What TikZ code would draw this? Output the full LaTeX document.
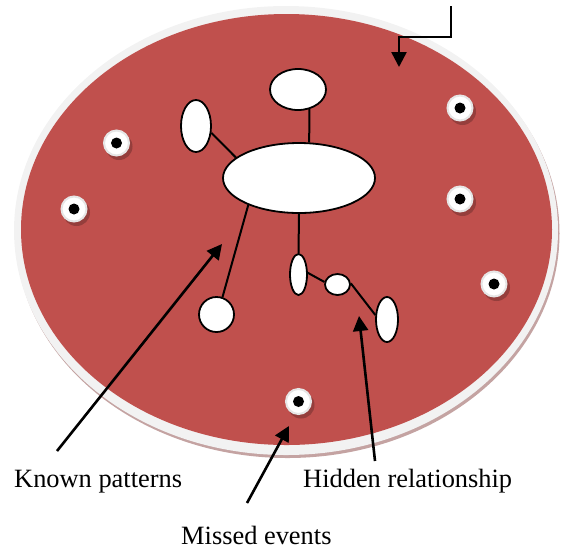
\documentclass[tikz,border=0pt]{standalone}
\usepackage{fontspec}
\setmainfont{Liberation Serif}
\usetikzlibrary{arrows.meta,positioning,shapes.geometric}
\definecolor{disk}{HTML}{C0504D}
\definecolor{rim}{HTML}{F2F2F2}
\definecolor{rimshade}{HTML}{C4A3A2}
\definecolor{ringedge}{HTML}{E6E6E6}
\tikzset{blob/.style={ellipse,draw=black,fill=white,line width=1.8pt,inner sep=0pt},link/.style={draw=black,line width=2pt},pointer/.style={draw=black,line width=2.6pt,-{Triangle[length=15pt,width=15pt]}},event/.style={circle,fill=white,draw=ringedge,line width=2pt,minimum size=25pt,inner sep=0pt},caption/.style={anchor=base west,inner sep=0pt,font=\fontsize{26.4}{30}\selectfont}}

\begin{document}
\begin{tikzpicture}[x=1pt,y=-1pt]
\useasboundingbox (0,0) rectangle (564,550);
% The data disk, with its rim and a faint shadow.
\fill[rimshade] (287.5,233.5) ellipse [x radius=272,y radius=224.5];
\fill[rim] (286,230.5) ellipse [x radius=272,y radius=224.5];
\fill[disk] (286.5,229.5) ellipse [x radius=265.5,y radius=215.5];
% Known pattern: a core and its satellites.
\node[blob,minimum width=152pt,minimum height=70pt] (core) at (299,178) {};
\node[blob,minimum width=56pt,minimum height=41pt] (upper) at (298,89.5) {};
\node[blob,minimum width=30pt,minimum height=52pt] (side) at (196,126) {};
\node[blob,circle,minimum size=35pt] (knot) at (216.5,314.5) {};
% Hidden chain below the core.
\node[blob,minimum width=17pt,minimum height=41pt] (h1) at (298.5,274.5) {};
\node[blob,minimum width=25pt,minimum height=21pt] (h2) at (337.5,284.5) {};
\node[blob,minimum width=22pt,minimum height=45pt] (h3) at (387,319.5) {};
\draw[link] (upper.-60) -- (core.74);
\draw[link] (side.-24) -- (core.162);
\draw[link] (core.208) -- (knot.71);
\draw[link] (core.south) -- (h1.north);
\draw[link] (h1.10) -- (h2.169);
\draw[link] (h2.5) -- (h3.159);
% Isolated events scattered over the disk.
\foreach \x/\y [count=\i] in {116.5/143,74/209,460/108,460/199,494/284,298.5/401.5}{
  \fill[black,opacity=.22] (\x+2.5,\y+3.5) circle (13.5);
  \node[event] (ev\i) at (\x,\y) {};
  \fill (ev\i) circle (5.5);
}
% Captions and their pointers.
\node[caption] (known) at (14,487) {Known patterns};
\node[caption] (hidden) at (303,487) {Hidden relationship};
\node[caption] (missed) at (181,544) {Missed events};
\coordinate (knownFrom) at (57,451);
\coordinate (knownTo) at (222,244);
\coordinate (hiddenFrom) at (375,461);
\coordinate (hiddenTo) at (359,316);
\coordinate (missedFrom) at (247,503);
\coordinate (missedTo) at (289,426);
\draw[pointer] (knownFrom) -- (knownTo);
\draw[pointer] (hiddenFrom) -- (hiddenTo);
\draw[pointer] (missedFrom) -- (missedTo);
% Incoming feed at the top.
\coordinate (feed) at (451,6);
\coordinate (drop) at (399,67);
\draw[pointer] (feed) -- ++(0,31) -| (drop);
\end{tikzpicture}
\end{document}
